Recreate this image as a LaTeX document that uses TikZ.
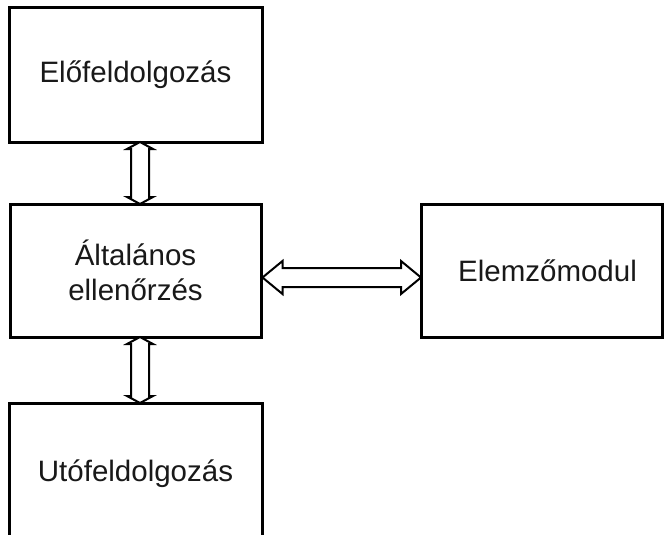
\documentclass[tikz,border=0pt]{standalone}
\usepackage{fontspec}
\setmainfont{Liberation Sans}
\usetikzlibrary{calc}
\begin{document}
\begin{tikzpicture}[x=1pt,y=-1pt,
  blockbox/.style={draw=black, line width=3pt, fill=white, inner sep=0pt, outer sep=0pt,
    align=center, font=\fontsize{29.5}{35}\selectfont, text=black!90},
  dblarrow/.style={draw=black, line width=2pt, line join=miter, fill=white}]
\useasboundingbox (0,0) rectangle (664,535);
\node[blockbox, minimum width=253pt, minimum height=134pt] (pre) at (135.5,75) {Előfeldolgozás};
\node[blockbox, minimum width=251pt, minimum height=133pt] (mid) at (135.5,270.5) {Általános\\ellenőrzés};
\node[blockbox, minimum width=241pt, minimum height=133pt] (ana) at (541.5,270.5) {\hspace*{12pt}Elemzőmodul};
\node[blockbox, minimum width=253pt, minimum height=142pt] (post) at (135.5,474) {Utófeldolgozás};
% vertical double arrow pre <-> mid
\coordinate (a1) at ($(pre.south)+(4.5,0)$);
\coordinate (a2) at ($(mid.north)+(4.5,0)$);
\draw[dblarrow] (a1) -- ++(13,7) -- ++(-4,0) -- ($(a2)+(9,-7)$) -- ++(4,0) -- (a2)
  -- ++(-13,-7) -- ++(4,0) -- ($(a1)+(-9,7)$) -- ++(-4,0) -- cycle;
% vertical double arrow mid <-> post
\coordinate (b1) at ($(mid.south)+(4.5,0)$);
\coordinate (b2) at ($(post.north)+(4.5,0)$);
\draw[dblarrow] (b1) -- ++(13,7) -- ++(-4,0) -- ($(b2)+(9,-7)$) -- ++(4,0) -- (b2)
  -- ++(-13,-7) -- ++(4,0) -- ($(b1)+(-9,7)$) -- ++(-4,0) -- cycle;
% horizontal double arrow mid <-> ana
\coordinate (h1) at ($(mid.east)+(1.5,7)$);
\coordinate (h2) at ($(ana.west)+(0,7)$);
\draw[dblarrow] (h1) -- ++(20,-16.5) -- ++(0,7) -- ($(h2)+(-20,-9.5)$) -- ++(0,-7) -- (h2)
  -- ++(-20,16.5) -- ++(0,-7) -- ($(h1)+(20,9.5)$) -- ++(0,7) -- cycle;
\end{tikzpicture}
\end{document}
